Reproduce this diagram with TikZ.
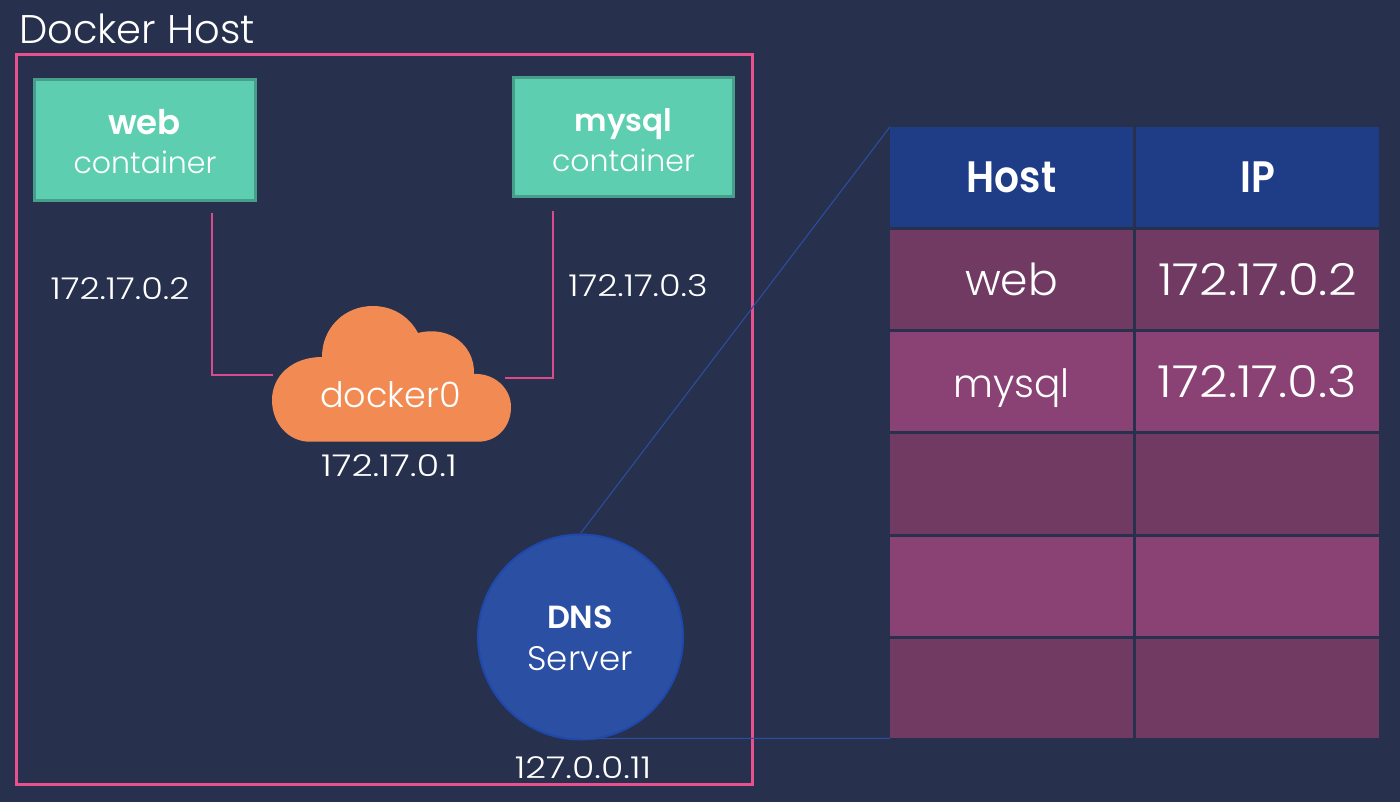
\documentclass[tikz,border=0pt]{standalone}
\usepackage{fontspec}
\setmainfont{Poppins Light}[BoldFont={Poppins SemiBold}]
\definecolor{bgc}{HTML}{27314E}
\definecolor{pinkc}{HTML}{E8508E}
\definecolor{pinkthin}{HTML}{DB4A8B}
\definecolor{tealf}{HTML}{5DCFB0}
\definecolor{teald}{HTML}{479E8A}
\definecolor{orangec}{HTML}{F18B53}
\definecolor{dnsf}{HTML}{2B4FA3}
\definecolor{dnsd}{HTML}{1F48AD}
\definecolor{headc}{HTML}{1F3D87}
\definecolor{rowa}{HTML}{713A63}
\definecolor{rowb}{HTML}{8A4275}
\tikzset{
 lbl/.style={text=white,inner sep=0pt,font=\fontsize{30}{34}\selectfont},
 iplbl/.style={text=white,inner sep=0pt,font=\fontsize{30}{34}\selectfont\addfontfeature{FakeStretch=1.17}},
 ctr/.style={draw=teald,fill=tealf,line width=3pt,minimum width=221.5pt,minimum height=120.7pt,inner sep=0pt},
 cell/.style={inner sep=0pt,minimum height=99.5pt,text=white,text height=36pt,text depth=4pt,font=\fontsize{40}{44}\selectfont},
 cola/.style={cell,minimum width=243pt},
 colb/.style={cell,minimum width=243pt},
 head/.style={fill=headc,font=\fontsize{44}{48}\bfseries\selectfont\addfontfeature{FakeStretch=0.89}},
 ra/.style={fill=rowa},
 rb/.style={fill=rowb},
 ipcell/.style={font=\fontsize{44}{48}\selectfont\addfontfeature{FakeStretch=1.14}},
 thinpink/.style={draw=pinkthin,line width=1.5pt},
 thinblue/.style={draw=dnsf,line width=1pt},
}
\begin{document}
\begin{tikzpicture}[x=1pt,y=-1pt]
\useasboundingbox (0,0) rectangle (1400,802);
\fill[bgc] (0,0) rectangle (1400,802);
\node[text=white,inner sep=0pt,anchor=base west,font=\fontsize{40}{44}\selectfont] (title) at (19,44) {Docker Host};
\node[draw=pinkc,line width=3pt,minimum width=736.2pt,minimum height=730pt,inner sep=0pt] (hostbox) at (384.6,419.5) {};

\node[ctr] (web) at (144.75,139.85) {};
\node[ctr,minimum width=220pt,minimum height=119pt] (mysql) at (623.5,137) {};
\node[inner sep=0pt,text=white,font=\fontsize{34}{38}\bfseries\selectfont] (weblbl) at (144.5,122) {web};
\node[lbl] (webc) at (145,162) {container};
\node[inner sep=0pt,text=white,font=\fontsize{31}{35}\bfseries\selectfont] (mysqllbl) at (623.5,124) {mysql};
\node[lbl] (mysqlc) at (623.5,160) {container};

\coordinate (webdrop) at (212,213);
\coordinate (webend) at (273,375);
\coordinate (mysqldrop) at (553,211);
\coordinate (mysqlend) at (505,378);
\draw[thinpink] (webdrop) |- (webend);
\draw[thinpink] (mysqldrop) |- (mysqlend);

\fill[orangec] (310,441.7)
  .. controls (288,441.7) and (272,423) .. (272,400)
  .. controls (272,376) and (292,357) .. (322,357)
  .. controls (322,328) and (344,306) .. (373,306)
  .. controls (392,306) and (409,316) .. (418,333)
  .. controls (450,325) and (475,346) .. (474,374)
  .. controls (494,373) and (511,388) .. (511,407)
  .. controls (511,427) and (497,441.7) .. (478,441.7) -- cycle;
\node[lbl,font=\fontsize{35}{39}\selectfont] (cloudlbl) at (390.5,395) {docker0};
\node[iplbl,font=\fontsize{30}{34}\selectfont\addfontfeature{FakeStretch=1.23}] (cloudip) at (389,466) {172.17.0.1};
\node[iplbl] (webip) at (120,289) {172.17.0.2};
\node[iplbl] (mysqlip) at (638,286) {172.17.0.3};

\node[cola,head] (hosth) at (1011.5,177) {Host};
\node[colb,head] (iph) at (1257.5,177) {IP};
\node[cola,ra,font=\fontsize{44}{48}\selectfont] (c1a) at (1011.5,279.5) {web};
\node[colb,ra,ipcell] (c1b) at (1257.5,279.5) {172.17.0.2};
\node[cola,rb,font=\fontsize{39}{43}\selectfont] (c2a) at (1011.5,381.5) {mysql};
\node[colb,rb,ipcell] (c2b) at (1257.5,381.5) {172.17.0.3};
\node[cola,ra] (c3a) at (1011.5,484) {};
\node[colb,ra] (c3b) at (1257.5,484) {};
\node[cola,rb] (c4a) at (1011.5,586.5) {};
\node[colb,rb] (c4b) at (1257.5,586.5) {};
\node[cola,ra] (c5a) at (1011.5,688.5) {};
\node[colb,ra] (c5b) at (1257.5,688.5) {};

\node[circle,draw=dnsd,fill=dnsf,line width=2pt,minimum size=205pt,inner sep=0pt] (dns) at (580.5,637) {};
\node[inner sep=0pt,text=white,font=\fontsize{32}{36}\bfseries\selectfont] (dnsl) at (580,617) {DNS};
\node[lbl,font=\fontsize{34}{38}\selectfont] (dnss) at (580,659) {Server};
\node[iplbl,font=\fontsize{30}{34}\selectfont\addfontfeature{FakeStretch=1.21}] (dnsip) at (583,768) {127.0.0.11};
\coordinate (dnsbot) at (581,738.5);
\draw[thinblue] (dns.north) -- (hosth.north west);
\draw[thinblue] (dnsbot) -- (c5a.south west);
\end{tikzpicture}
\end{document}
